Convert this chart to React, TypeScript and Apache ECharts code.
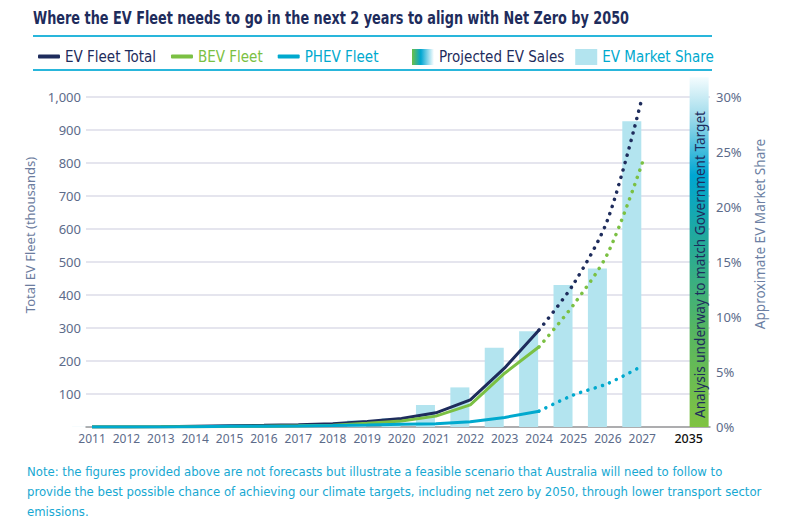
import React, { useEffect, useRef } from "react";
import * as echarts from "echarts";

// ---- data ----
const years = ["2011", "2012", "2013", "2014", "2015", "2016", "2017", "2018", "2019", "2020", "2021", "2022", "2023", "2024", "2025", "2026", "2027"];
const targetYear = "2035";
const lastActualYear = "2024";
const evFleetTotal = [0.1, 0.3, 0.6, 2, 3.5, 5, 7, 10, 17, 26, 43, 82, 179, 294, 433, 630, 1000];
const bevFleet = [0.05, 0.2, 0.4, 0.8, 1.5, 2.5, 3.8, 5.5, 11, 18, 33, 67, 163, 243, 370, 527, 800];
const phevFleet = [0.05, 0.1, 0.2, 1.1, 2, 2.5, 3.2, 4.5, 6, 8, 10, 16, 29, 48, 97, 132, 185];
const evMarketShare = [0.01, 0.02, 0.03, 0.1, 0.1, 0.1, 0.1, 0.2, 0.6, 0.8, 2.0, 3.6, 7.2, 8.7, 12.9, 14.4, 27.8];
const projectedSales2035 = 31.8;
const targetLabel = "Analysis underway to match Government Target";
const titleText = "Where the EV Fleet needs to go in the next 2 years to align with Net Zero by 2050";
const leftAxis = { min: 0, max: 1000, interval: 100 };
const rightAxis = { min: 0, max: 30, interval: 5 };

// ---- layout / style ----
const TARGET_GAP = 1.35;
const NAVY = "#1e2c5c";
const GREEN = "#7bc043";
const CYAN = "#00a9ce";
const BAR = "#b3e4ef";
const SLATE = "#5c6b8a";
const NARROW = "'Liberation Sans Narrow', 'DejaVu Sans Condensed', 'Noto Sans', sans-serif";
const SANS = "'Noto Sans', 'DejaVu Sans', sans-serif";

export default function App() {
  const ref = useRef<HTMLDivElement>(null);
  useEffect(() => {
    if (!ref.current) return;
    const chart = echarts.init(ref.current, null, { renderer: "svg" });
    const split = years.indexOf(lastActualYear);
    const positions = years.map((_, i) => i);
    const targetPos = years.length - 1 + TARGET_GAP;
    const labelPositions = [...positions, targetPos];
    const labelTexts = [...years, targetYear];

    const solid = (arr: number[]) => arr.slice(0, split + 1).map((v, i) => [positions[i], v]);
    const dotted = (arr: number[]) => arr.slice(split).map((v, i) => [positions[split + i], v]);

    const lineSeries = (name: string, arr: number[], color: string) => [
      {
        name, type: "line", data: solid(arr), symbol: "none", z: 5,
        lineStyle: { color, width: 3 }, itemStyle: { color },
      },
      {
        name, type: "line", data: dotted(arr), symbol: "none", smooth: 0.3, z: 5,
        lineStyle: { color, width: 3.5, type: [0.1, 7.5], cap: "round" }, itemStyle: { color },
      },
    ];

    const gradV = new echarts.graphic.LinearGradient(0, 0, 0, 1, [
      { offset: 0, color: "#f4fcfe" },
      { offset: 0.12, color: "#9ad9ea" },
      { offset: 0.28, color: "#00a6d2" },
      { offset: 0.46, color: "#22a99c" },
      { offset: 0.72, color: "#55b562" },
      { offset: 1, color: "#80c342" },
    ]);
    const gradH = new echarts.graphic.LinearGradient(0, 0, 1, 0, [
      { offset: 0, color: "#6dbf46" },
      { offset: 0.4, color: "#00a6d2" },
      { offset: 1, color: "#ffffff" },
    ]);

    chart.setOption({
      animation: false,
      graphic: [
        {
          type: "text", x: 33, y: 18, scaleX: 0.84,
          style: {
            text: titleText, fill: NAVY, font: `bold 17px ${NARROW}`,
            verticalAlign: "middle", align: "left",
          },
        },
        { type: "line", shape: { x1: 33, y1: 36, x2: 712, y2: 36 }, style: { stroke: "#29b6db", lineWidth: 2 } },
        { type: "line", shape: { x1: 33, y1: 70, x2: 712, y2: 70 }, style: { stroke: "#29b6db", lineWidth: 2 } },
        {
          type: "text", left: 27, top: 461,
          style: {
            text: "Note: the figures provided above are not forecasts but illustrate a feasible scenario that Australia will need to follow to\nprovide the best possible chance of achieving our climate targets, including net zero by 2050, through lower transport sector\nemissions.",
            fill: "#17a8d2", font: `13px ${NARROW}`, lineHeight: 20,
          },
        },
      ],
      legend: [
        {
          left: 33, top: 44, itemWidth: 22, itemHeight: 4, itemGap: 15, icon: "roundRect",
          textStyle: { fontFamily: NARROW, fontSize: 15 },
          data: [
            { name: "EV Fleet Total", textStyle: { color: NAVY } },
            { name: "BEV Fleet", textStyle: { color: GREEN } },
            { name: "PHEV Fleet", textStyle: { color: CYAN } },
          ],
        },
        {
          left: 407, top: 44, itemWidth: 22, itemHeight: 16, itemGap: 11, icon: "rect",
          textStyle: { fontFamily: NARROW, fontSize: 15 },
          data: [
            { name: "Projected EV Sales", textStyle: { color: NAVY }, itemStyle: { color: gradH } },
            { name: "EV Market Share", textStyle: { color: CYAN } },
          ],
        },
      ],
      grid: { left: 86, right: 82, top: 97, bottom: 104 },
      xAxis: {
        type: "value", min: -0.175, max: 17.97,
        splitLine: { show: false },
        axisTick: { show: false },
        axisLine: { show: true, lineStyle: { color: "#9a9a9a", width: 1.5 } },
        axisLabel: {
          customValues: labelPositions,
          margin: 5,
          formatter: (v: number) => {
            const i = labelPositions.findIndex((p) => Math.abs(p - v) < 1e-6);
            const t = i >= 0 ? labelTexts[i] : "";
            return t === targetYear ? `{t|${t}}` : t;
          },
          color: SLATE, fontFamily: SANS, fontSize: 12,
          rich: { t: { color: "#111111", fontFamily: SANS, fontSize: 12.5, fontWeight: 500 } },
        },
      },
      yAxis: [
        {
          type: "value", ...leftAxis,
          name: "Total EV Fleet (thousands)", nameLocation: "middle", nameGap: 40, nameRotate: 90,
          nameTextStyle: { color: "#6c7c9e", fontFamily: SANS, fontSize: 13, padding: [0, 0, 0, 54] },
          axisLine: { show: false }, axisTick: { show: false },
          splitLine: { lineStyle: { color: "#dcdde8", width: 1.5 } },
          axisLabel: {
            showMinLabel: false, margin: 5, color: SLATE, fontFamily: SANS, fontSize: 13,
            formatter: (v: number) => v.toLocaleString("en-US"),
          },
        },
        {
          type: "value", ...rightAxis, position: "right",
          name: "Approximate EV Market Share", nameLocation: "middle", nameGap: 33, nameRotate: 90,
          nameTextStyle: { color: "#6c7fa3", fontFamily: SANS, fontSize: 13.6, padding: [0, 0, 0, 56] },
          axisLine: { show: false }, axisTick: { show: false }, splitLine: { show: false },
          axisLabel: { margin: 6, color: SLATE, fontFamily: SANS, fontSize: 13, formatter: "{value}%" },
        },
      ],
      series: [
        {
          name: "EV Market Share", type: "bar", yAxisIndex: 1, barWidth: 19, z: 1,
          data: evMarketShare.map((v, i) => [positions[i], v]),
          itemStyle: { color: BAR },
        },
        {
          name: "Projected EV Sales", type: "bar", yAxisIndex: 1, barWidth: 19, z: 1, clip: false,
          data: [[targetPos, projectedSales2035]],
          itemStyle: { color: gradV },
          label: {
            show: true, position: "insideBottom", rotate: 90, align: "left", verticalAlign: "middle",
            distance: 9, formatter: targetLabel, color: NAVY, fontFamily: SANS, fontSize: 13.6,
          },
        },
        ...lineSeries("EV Fleet Total", evFleetTotal, NAVY),
        ...lineSeries("BEV Fleet", bevFleet, GREEN),
        ...lineSeries("PHEV Fleet", phevFleet, CYAN),
      ],
    });
    return () => chart.dispose();
  }, []);
  return <div ref={ref} style={{ position: "absolute", left: 0, top: 0, width: 792, height: 531 }} />;
}
